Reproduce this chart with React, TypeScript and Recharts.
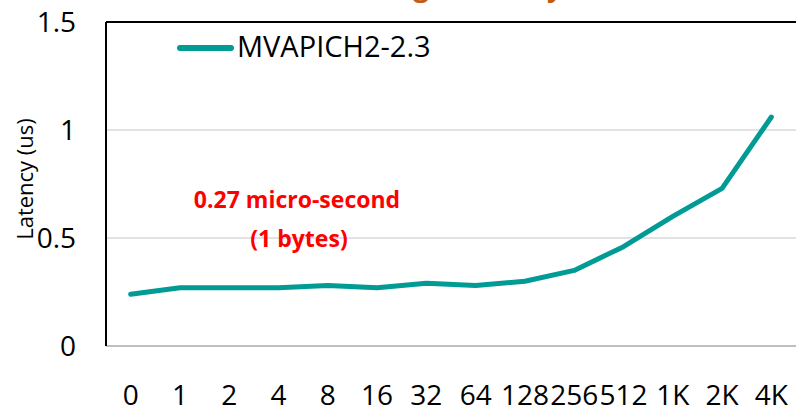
import { LineChart, Line, XAxis, YAxis, CartesianGrid, ReferenceLine } from 'recharts';

// message sizes (bytes) and measured latency (us)
const msgSizes = ['0', '1', '2', '4', '8', '16', '32', '64', '128', '256', '512', '1K', '2K', '4K'];
const mvapichLatency = [0.24, 0.27, 0.27, 0.27, 0.28, 0.27, 0.29, 0.28, 0.30, 0.35, 0.46, 0.60, 0.73, 1.06];
const yTicks = [0, 0.5, 1, 1.5];

const seriesName = 'MVAPICH2-2.3';
const chartTitle = 'Small Message Latency';
const yTitle = 'Latency (us)';
const noteLines = ['0.27 micro-second', '(1 bytes)'];

const data = msgSizes.map((size, i) => ({ size, mvapich: mvapichLatency[i] }));

const TEAL = '#009B95';
const FONT = '"Open Sans", "Noto Sans", sans-serif';
// half a category slot, so points sit in the middle of each slot
const HALF_SLOT = (796 - 106) / msgSizes.length / 2;

export default function App() {
  return (
    <div style={{ position: 'absolute', left: 0, top: 0, width: 796, height: 409, overflow: 'hidden', background: '#fff' }}>
      <LineChart width={796} height={409} data={data} margin={{ top: 22, right: 0, left: 0, bottom: 0 }}>
        <CartesianGrid vertical={false} stroke="#d9d9d9" strokeWidth={1.5} />
        <XAxis
          dataKey="size"
          interval={0}
          height={63}
          padding={{ left: HALF_SLOT, right: HALF_SLOT }}
          tickLine={false}
          tickSize={0}
          tickMargin={39}
          axisLine={{ stroke: '#bfbfbf', strokeWidth: 2 }}
          tick={{ fontSize: 28, fill: '#000', fontFamily: FONT }}
        />
        <YAxis
          domain={[0, 1.5]}
          ticks={yTicks}
          width={106}
          tickLine={false}
          tickSize={0}
          tickMargin={30}
          axisLine={{ stroke: '#000', strokeWidth: 2 }}
          tick={{ fontSize: 28, fill: '#000', fontFamily: FONT }}
        />
        <ReferenceLine y={1.5} stroke="#000" strokeWidth={2} />
        <Line
          type="linear"
          dataKey="mvapich"
          name={seriesName}
          stroke={TEAL}
          strokeWidth={5}
          strokeLinecap="round"
          strokeLinejoin="round"
          dot={false}
          activeDot={false}
          isAnimationActive={false}
        />
      </LineChart>

      <svg width={796} height={409} style={{ position: 'absolute', left: 0, top: 0, pointerEvents: 'none' }}>
        {/* title sits mostly above the frame, only descenders show */}
        <text x={563} y={-4} textAnchor="end" fontSize={28} fontWeight="bold" fill="#C55A11" fontFamily={FONT}>
          {chartTitle}
        </text>
        {/* legend */}
        <line x1={180} x2={231} y1={48} y2={48} stroke={TEAL} strokeWidth={6} strokeLinecap="round" />
        <text x={237} y={57} fontSize={29} fill="#000" fontFamily={FONT}>{seriesName}</text>
        {/* y axis title */}
        <text
          x={0}
          y={0}
          transform="translate(33 179) rotate(-90)"
          textAnchor="middle"
          fontSize={22}
          fill="#000"
          fontFamily={FONT}
        >
          {yTitle}
        </text>
        {/* annotation */}
        <text x={297} y={208} textAnchor="middle" fontSize={23} fontWeight="bold" fill="#FF0000" fontFamily={FONT}>
          {noteLines[0]}
        </text>
        <text x={299} y={247} textAnchor="middle" fontSize={23} fontWeight="bold" fill="#FF0000" fontFamily={FONT}>
          {noteLines[1]}
        </text>
      </svg>
    </div>
  );
}
